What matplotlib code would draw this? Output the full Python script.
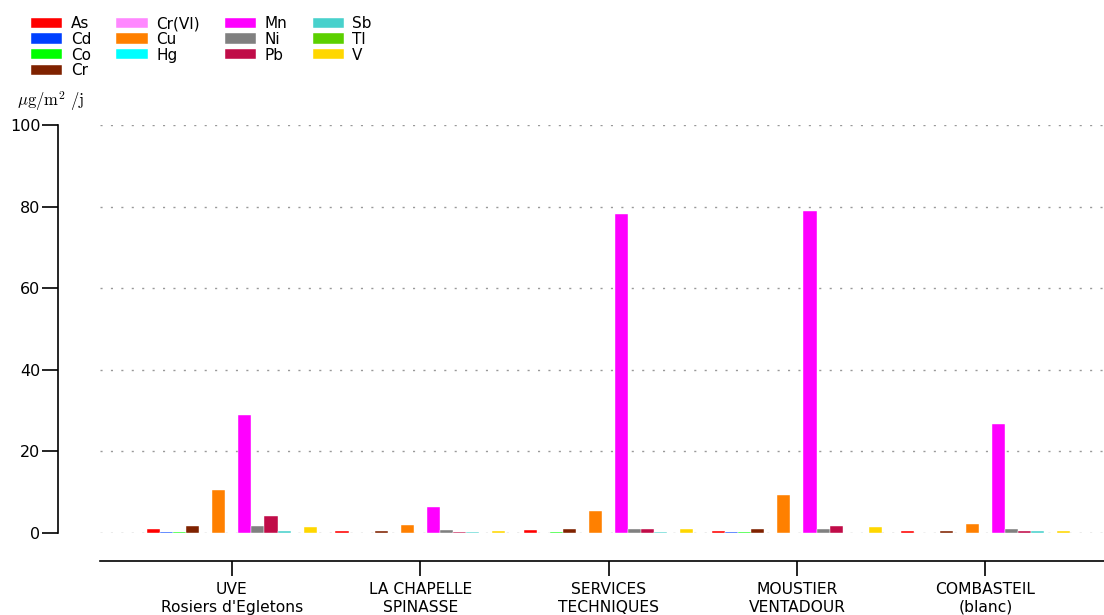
import matplotlib
matplotlib.use("Agg")
import matplotlib.pyplot as plt
import numpy as np

categories = ["UVE\nRosiers d'Egletons", "LA CHAPELLE\nSPINASSE", "SERVICES\nTECHNIQUES",
              "MOUSTIER\nVENTADOUR", "COMBASTEIL\n(blanc)"]
elements = ["As", "Cd", "Co", "Cr", "Cr(VI)", "Cu", "Hg", "Mn", "Ni", "Pb", "Sb", "Tl", "V"]
colors = ["#ff0000", "#0040ff", "#00ff00", "#7f2200", "#ff88ff", "#ff8000", "#00ffff",
          "#ff00ff", "#808080", "#c00c48", "#48d1cc", "#5cd000", "#ffd700"]

As = [1.0, 0.6, 0.7, 0.5, 0.5]
Cd = [0.2, 0.05, 0.05, 0.15, 0.05]
Co = [0.3, 0.05, 0.2, 0.15, 0.05]
Cr = [1.7, 0.6, 1.0, 0.9, 0.6]
CrVI = [0.0, 0.0, 0.0, 0.0, 0.0]
Cu = [10.6, 2.0, 5.4, 9.3, 2.2]
Hg = [0.0, 0.0, 0.05, 0.05, 0.0]
Mn = [28.8, 6.4, 78.2, 78.8, 26.6]
Ni = [1.7, 0.7, 1.0, 1.1, 0.9]
Pb = [4.1, 0.3, 1.0, 1.8, 0.4]
Sb = [0.4, 0.3, 0.3, 0.1, 0.4]
Tl = [0.05, 0.05, 0.05, 0.05, 0.05]
V = [1.5, 0.5, 0.9, 1.4, 0.5]
series = [As, Cd, Co, Cr, CrVI, Cu, Hg, Mn, Ni, Pb, Sb, Tl, V]

plt.rcParams['mathtext.fontset'] = 'cm'
fig = plt.figure(figsize=(11.04, 6.15), dpi=100)
ax = fig.add_axes([100/1104, 1-533/615, 1-100/1104, (533-125)/615])

n = len(series)
total = 0.9
w = total / n
x = np.arange(len(categories))
for i, (vals, c, lab) in enumerate(zip(series, colors, elements)):
    ax.bar(x - total/2 + w*(i+0.5), vals, width=w, color=c, label=lab,
           edgecolor='white', linewidth=0.3, zorder=3)

ax.set_ylim(0, 100)
ax.set_xlim(-0.70, 4.63)
ax.set_yticks([0, 20, 40, 60, 80, 100])
ax.tick_params(axis='y', labelsize=11.5, length=11.5, width=1.2, pad=1.5)
ax.tick_params(axis='x', labelsize=11.2, length=11, width=1.2, pad=4.5)
ax.set_xticks(x)
ax.set_xticklabels(categories, fontsize=11.2, linespacing=0.85)

for yv in [0, 20, 40, 60, 80, 100]:
    ax.axhline(yv, color='#999999', linestyle=(0, (1.5, 6)), linewidth=1.0, zorder=1)

ax.spines['top'].set_visible(False)
ax.spines['right'].set_visible(False)
ax.spines['left'].set_position(('outward', 30))
ax.spines['left'].set_bounds(0, 100)
ax.spines['bottom'].set_position(('outward', 20))
for s in ['left', 'bottom']:
    ax.spines[s].set_linewidth(1.2)

fig.text(17/1104, 1-101/615, r'$\mu\mathrm{g/m^2\ /j}$', fontsize=12, ha='left', va='center')

leg = fig.legend(loc='upper left', bbox_to_anchor=(25/1104, 1-10/615), ncol=4, frameon=False,
                 fontsize=11, handlelength=2.05, handleheight=0.65, labelspacing=0.05,
                 columnspacing=1.65, handletextpad=0.55, borderaxespad=0)

fig.savefig("out.png", dpi=100)
